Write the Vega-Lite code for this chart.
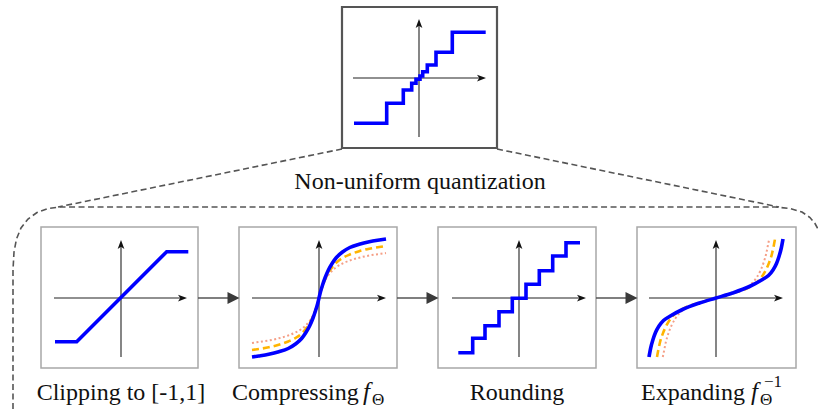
{
  "$schema": "https://vega.github.io/schema/vega-lite/v6.json",
  "width": 818,
  "height": 409,
  "autosize": {"type": "none"},
  "padding": 0,
  "background": "white",
  "config": {"view": {"stroke": null}},
  "datasets": {
    "bracket": [
      {"seg": "left", "i": 0, "x": 342, "y": 149},
      {"seg": "left", "i": 1, "x": 58, "y": 207},
      {"seg": "right", "i": 0, "x": 497, "y": 149},
      {"seg": "right", "i": 1, "x": 779, "y": 207},
      {"seg": "frame", "i": 0, "x": 13, "y": 409},
      {"seg": "frame", "i": 1, "x": 13, "y": 270},
      {"seg": "frame", "i": 2, "x": 14, "y": 252},
      {"seg": "frame", "i": 3, "x": 16.5, "y": 239},
      {"seg": "frame", "i": 4, "x": 21, "y": 228},
      {"seg": "frame", "i": 5, "x": 28, "y": 219},
      {"seg": "frame", "i": 6, "x": 37, "y": 212.5},
      {"seg": "frame", "i": 7, "x": 48, "y": 208.5},
      {"seg": "frame", "i": 8, "x": 60, "y": 207},
      {"seg": "frame", "i": 9, "x": 775, "y": 207},
      {"seg": "frame", "i": 10, "x": 790, "y": 208.5},
      {"seg": "frame", "i": 11, "x": 802, "y": 212},
      {"seg": "frame", "i": 12, "x": 810, "y": 217.5},
      {"seg": "frame", "i": 13, "x": 815, "y": 223.5},
      {"seg": "frame", "i": 14, "x": 818, "y": 229}
    ],
    "topBox": [{"x": 342, "x2": 497, "y": 7, "y2": 148}],
    "panels": [
      {"step": "clip", "x": 41, "x2": 198, "y": 227, "y2": 368},
      {"step": "compress", "x": 239, "x2": 397, "y": 227, "y2": 368},
      {"step": "round", "x": 438, "x2": 596, "y": 227, "y2": 368},
      {"step": "expand", "x": 637, "x2": 796, "y": 227, "y2": 368}
    ],
    "flow": [
      {"x": 198, "x2": 228, "y": 298},
      {"x": 397, "x2": 427, "y": 298},
      {"x": 596, "x2": 626, "y": 298}
    ],
    "flowHeads": [
      {"x": 233.5, "y": 298},
      {"x": 432.5, "y": 298},
      {"x": 631.5, "y": 298}
    ],
    "axes": [
      {"x": 353, "x2": 482, "y": 78, "y2": 78},
      {"x": 419, "x2": 419, "y": 137, "y2": 23},
      {"x": 54, "x2": 183, "y": 298, "y2": 298},
      {"x": 121, "x2": 121, "y": 357, "y2": 244},
      {"x": 252, "x2": 382, "y": 298, "y2": 298},
      {"x": 319, "x2": 319, "y": 357, "y2": 244},
      {"x": 452, "x2": 582, "y": 298, "y2": 298},
      {"x": 519, "x2": 519, "y": 357, "y2": 244},
      {"x": 649, "x2": 779, "y": 298, "y2": 298},
      {"x": 716, "x2": 716, "y": 357, "y2": 244}
    ],
    "rightHeads": [
      {"x": 481.5, "y": 78},
      {"x": 182.5, "y": 298},
      {"x": 381.5, "y": 298},
      {"x": 581.5, "y": 298},
      {"x": 778.5, "y": 298}
    ],
    "upHeads": [
      {"x": 419, "y": 23.5},
      {"x": 121, "y": 244.5},
      {"x": 319, "y": 244.5},
      {"x": 519, "y": 244.5},
      {"x": 716, "y": 244.5}
    ],
    "polylines": [
      {"line": "top", "i": 0, "x": 354, "y": 123.3},
      {"line": "top", "i": 1, "x": 386.7, "y": 123.3},
      {"line": "top", "i": 2, "x": 386.7, "y": 103.3},
      {"line": "top", "i": 3, "x": 403.3, "y": 103.3},
      {"line": "top", "i": 4, "x": 403.3, "y": 90},
      {"line": "top", "i": 5, "x": 411.7, "y": 90},
      {"line": "top", "i": 6, "x": 411.7, "y": 83.3},
      {"line": "top", "i": 7, "x": 416, "y": 83.3},
      {"line": "top", "i": 8, "x": 416, "y": 79.3},
      {"line": "top", "i": 9, "x": 420, "y": 79.3},
      {"line": "top", "i": 10, "x": 420, "y": 76},
      {"line": "top", "i": 11, "x": 422.7, "y": 76},
      {"line": "top", "i": 12, "x": 422.7, "y": 71.7},
      {"line": "top", "i": 13, "x": 427.3, "y": 71.7},
      {"line": "top", "i": 14, "x": 427.3, "y": 65},
      {"line": "top", "i": 15, "x": 436, "y": 65},
      {"line": "top", "i": 16, "x": 436, "y": 52.3},
      {"line": "top", "i": 17, "x": 452.3, "y": 52.3},
      {"line": "top", "i": 18, "x": 452.3, "y": 32.3},
      {"line": "top", "i": 19, "x": 485.7, "y": 32.3},
      {"line": "clip", "i": 0, "x": 55, "y": 341.7},
      {"line": "clip", "i": 1, "x": 76.7, "y": 341.7},
      {"line": "clip", "i": 2, "x": 166.7, "y": 251.7},
      {"line": "clip", "i": 3, "x": 188.3, "y": 251.7},
      {"line": "round", "i": 0, "x": 458.3, "y": 352.7},
      {"line": "round", "i": 1, "x": 472.7, "y": 352.7},
      {"line": "round", "i": 2, "x": 472.7, "y": 338.3},
      {"line": "round", "i": 3, "x": 485, "y": 338.3},
      {"line": "round", "i": 4, "x": 485, "y": 325.7},
      {"line": "round", "i": 5, "x": 499, "y": 325.7},
      {"line": "round", "i": 6, "x": 499, "y": 311.7},
      {"line": "round", "i": 7, "x": 512.3, "y": 311.7},
      {"line": "round", "i": 8, "x": 512.3, "y": 298.3},
      {"line": "round", "i": 9, "x": 526, "y": 298.3},
      {"line": "round", "i": 10, "x": 526, "y": 284.3},
      {"line": "round", "i": 11, "x": 539.3, "y": 284.3},
      {"line": "round", "i": 12, "x": 539.3, "y": 270.7},
      {"line": "round", "i": 13, "x": 552.7, "y": 270.7},
      {"line": "round", "i": 14, "x": 552.7, "y": 256},
      {"line": "round", "i": 15, "x": 566, "y": 256},
      {"line": "round", "i": 16, "x": 566, "y": 242.7},
      {"line": "round", "i": 17, "x": 580, "y": 242.7}
    ],
    "curves": [
      {"s": "blue", "line": "compress", "i": 0, "x": 252, "y": 357},
      {"s": "blue", "line": "compress", "i": 1, "x": 258.7, "y": 356},
      {"s": "blue", "line": "compress", "i": 2, "x": 268.7, "y": 354.3},
      {"s": "blue", "line": "compress", "i": 3, "x": 278.8, "y": 351.8},
      {"s": "blue", "line": "compress", "i": 4, "x": 288.2, "y": 348.5},
      {"s": "blue", "line": "compress", "i": 5, "x": 295.5, "y": 344},
      {"s": "blue", "line": "compress", "i": 6, "x": 301.6, "y": 338.5},
      {"s": "blue", "line": "compress", "i": 7, "x": 305.6, "y": 333},
      {"s": "blue", "line": "compress", "i": 8, "x": 309.6, "y": 326},
      {"s": "blue", "line": "compress", "i": 9, "x": 313, "y": 318},
      {"s": "blue", "line": "compress", "i": 10, "x": 315.6, "y": 310.5},
      {"s": "blue", "line": "compress", "i": 11, "x": 317.7, "y": 303.5},
      {"s": "blue", "line": "compress", "i": 12, "x": 319, "y": 298},
      {"s": "blue", "line": "compress", "i": 13, "x": 320.3, "y": 292.5},
      {"s": "blue", "line": "compress", "i": 14, "x": 322.4, "y": 285.5},
      {"s": "blue", "line": "compress", "i": 15, "x": 325, "y": 278},
      {"s": "blue", "line": "compress", "i": 16, "x": 328.4, "y": 270},
      {"s": "blue", "line": "compress", "i": 17, "x": 332.4, "y": 263},
      {"s": "blue", "line": "compress", "i": 18, "x": 336.4, "y": 257.5},
      {"s": "blue", "line": "compress", "i": 19, "x": 342.5, "y": 252},
      {"s": "blue", "line": "compress", "i": 20, "x": 349.8, "y": 247.5},
      {"s": "blue", "line": "compress", "i": 21, "x": 359.2, "y": 244.2},
      {"s": "blue", "line": "compress", "i": 22, "x": 369.3, "y": 241.7},
      {"s": "blue", "line": "compress", "i": 23, "x": 379.3, "y": 240},
      {"s": "blue", "line": "compress", "i": 24, "x": 386, "y": 239},
      {"s": "dashed", "line": "compress", "i": 0, "x": 252, "y": 350},
      {"s": "dashed", "line": "compress", "i": 1, "x": 258.7, "y": 349},
      {"s": "dashed", "line": "compress", "i": 2, "x": 268.7, "y": 347.3},
      {"s": "dashed", "line": "compress", "i": 3, "x": 278.8, "y": 344.8},
      {"s": "dashed", "line": "compress", "i": 4, "x": 288.2, "y": 341.5},
      {"s": "dashed", "line": "compress", "i": 5, "x": 295.5, "y": 338},
      {"s": "dashed", "line": "compress", "i": 6, "x": 301.6, "y": 333.5},
      {"s": "dashed", "line": "compress", "i": 7, "x": 305.6, "y": 329},
      {"s": "dashed", "line": "compress", "i": 8, "x": 309.6, "y": 323.5},
      {"s": "dashed", "line": "compress", "i": 9, "x": 313, "y": 316.5},
      {"s": "dashed", "line": "compress", "i": 10, "x": 315.6, "y": 310},
      {"s": "dashed", "line": "compress", "i": 11, "x": 317.7, "y": 303.3},
      {"s": "dashed", "line": "compress", "i": 12, "x": 319, "y": 298},
      {"s": "dashed", "line": "compress", "i": 13, "x": 320.3, "y": 292.7},
      {"s": "dashed", "line": "compress", "i": 14, "x": 322.4, "y": 286},
      {"s": "dashed", "line": "compress", "i": 15, "x": 325, "y": 279.5},
      {"s": "dashed", "line": "compress", "i": 16, "x": 328.4, "y": 272.5},
      {"s": "dashed", "line": "compress", "i": 17, "x": 332.4, "y": 267},
      {"s": "dashed", "line": "compress", "i": 18, "x": 336.4, "y": 262.5},
      {"s": "dashed", "line": "compress", "i": 19, "x": 342.5, "y": 258},
      {"s": "dashed", "line": "compress", "i": 20, "x": 349.8, "y": 254.5},
      {"s": "dashed", "line": "compress", "i": 21, "x": 359.2, "y": 251.2},
      {"s": "dashed", "line": "compress", "i": 22, "x": 369.3, "y": 248.7},
      {"s": "dashed", "line": "compress", "i": 23, "x": 379.3, "y": 247},
      {"s": "dashed", "line": "compress", "i": 24, "x": 386, "y": 246},
      {"s": "dotted", "line": "compress", "i": 0, "x": 252, "y": 343},
      {"s": "dotted", "line": "compress", "i": 1, "x": 258.7, "y": 342},
      {"s": "dotted", "line": "compress", "i": 2, "x": 268.7, "y": 340.5},
      {"s": "dotted", "line": "compress", "i": 3, "x": 278.8, "y": 338.3},
      {"s": "dotted", "line": "compress", "i": 4, "x": 288.2, "y": 335.5},
      {"s": "dotted", "line": "compress", "i": 5, "x": 295.5, "y": 332.5},
      {"s": "dotted", "line": "compress", "i": 6, "x": 301.6, "y": 329},
      {"s": "dotted", "line": "compress", "i": 7, "x": 305.6, "y": 325.5},
      {"s": "dotted", "line": "compress", "i": 8, "x": 309.6, "y": 321},
      {"s": "dotted", "line": "compress", "i": 9, "x": 313, "y": 315.5},
      {"s": "dotted", "line": "compress", "i": 10, "x": 315.6, "y": 309.5},
      {"s": "dotted", "line": "compress", "i": 11, "x": 317.7, "y": 303},
      {"s": "dotted", "line": "compress", "i": 12, "x": 319, "y": 298},
      {"s": "dotted", "line": "compress", "i": 13, "x": 320.3, "y": 293},
      {"s": "dotted", "line": "compress", "i": 14, "x": 322.4, "y": 286.5},
      {"s": "dotted", "line": "compress", "i": 15, "x": 325, "y": 280.5},
      {"s": "dotted", "line": "compress", "i": 16, "x": 328.4, "y": 275},
      {"s": "dotted", "line": "compress", "i": 17, "x": 332.4, "y": 270.5},
      {"s": "dotted", "line": "compress", "i": 18, "x": 336.4, "y": 267},
      {"s": "dotted", "line": "compress", "i": 19, "x": 342.5, "y": 263.5},
      {"s": "dotted", "line": "compress", "i": 20, "x": 349.8, "y": 260.5},
      {"s": "dotted", "line": "compress", "i": 21, "x": 359.2, "y": 257.7},
      {"s": "dotted", "line": "compress", "i": 22, "x": 369.3, "y": 255.5},
      {"s": "dotted", "line": "compress", "i": 23, "x": 379.3, "y": 254},
      {"s": "dotted", "line": "compress", "i": 24, "x": 386, "y": 253},
      {"s": "blue", "line": "expand", "i": 0, "x": 649, "y": 357},
      {"s": "blue", "line": "expand", "i": 1, "x": 650.7, "y": 348},
      {"s": "blue", "line": "expand", "i": 2, "x": 653, "y": 339.5},
      {"s": "blue", "line": "expand", "i": 3, "x": 655.5, "y": 332.5},
      {"s": "blue", "line": "expand", "i": 4, "x": 659, "y": 326},
      {"s": "blue", "line": "expand", "i": 5, "x": 663.5, "y": 320.5},
      {"s": "blue", "line": "expand", "i": 6, "x": 669.5, "y": 316.5},
      {"s": "blue", "line": "expand", "i": 7, "x": 682.5, "y": 309.5},
      {"s": "blue", "line": "expand", "i": 8, "x": 699.5, "y": 303},
      {"s": "blue", "line": "expand", "i": 9, "x": 716, "y": 298},
      {"s": "blue", "line": "expand", "i": 10, "x": 732.5, "y": 293},
      {"s": "blue", "line": "expand", "i": 11, "x": 749.5, "y": 286.5},
      {"s": "blue", "line": "expand", "i": 12, "x": 762.5, "y": 279.5},
      {"s": "blue", "line": "expand", "i": 13, "x": 768.5, "y": 275.5},
      {"s": "blue", "line": "expand", "i": 14, "x": 773, "y": 270},
      {"s": "blue", "line": "expand", "i": 15, "x": 776.5, "y": 263.5},
      {"s": "blue", "line": "expand", "i": 16, "x": 779, "y": 256.5},
      {"s": "blue", "line": "expand", "i": 17, "x": 781.3, "y": 248},
      {"s": "blue", "line": "expand", "i": 18, "x": 783, "y": 239},
      {"s": "dashed", "line": "expand", "i": 0, "x": 657, "y": 357},
      {"s": "dashed", "line": "expand", "i": 1, "x": 658.1, "y": 351.1},
      {"s": "dashed", "line": "expand", "i": 2, "x": 660, "y": 342.3},
      {"s": "dashed", "line": "expand", "i": 3, "x": 662.9, "y": 333.4},
      {"s": "dashed", "line": "expand", "i": 4, "x": 666.6, "y": 325.1},
      {"s": "dashed", "line": "expand", "i": 5, "x": 670.6, "y": 318.7},
      {"s": "dashed", "line": "expand", "i": 6, "x": 675.7, "y": 313.3},
      {"s": "dashed", "line": "expand", "i": 7, "x": 680.8, "y": 310},
      {"s": "dashed", "line": "expand", "i": 8, "x": 687, "y": 306.8},
      {"s": "dashed", "line": "expand", "i": 9, "x": 699.5, "y": 303},
      {"s": "dashed", "line": "expand", "i": 10, "x": 716, "y": 298},
      {"s": "dashed", "line": "expand", "i": 11, "x": 732.5, "y": 293},
      {"s": "dashed", "line": "expand", "i": 12, "x": 745, "y": 289.2},
      {"s": "dashed", "line": "expand", "i": 13, "x": 751.2, "y": 286},
      {"s": "dashed", "line": "expand", "i": 14, "x": 756.3, "y": 282.7},
      {"s": "dashed", "line": "expand", "i": 15, "x": 761.4, "y": 277.3},
      {"s": "dashed", "line": "expand", "i": 16, "x": 765.4, "y": 270.9},
      {"s": "dashed", "line": "expand", "i": 17, "x": 769.1, "y": 262.6},
      {"s": "dashed", "line": "expand", "i": 18, "x": 772, "y": 253.7},
      {"s": "dashed", "line": "expand", "i": 19, "x": 773.9, "y": 244.9},
      {"s": "dashed", "line": "expand", "i": 20, "x": 775, "y": 239},
      {"s": "dotted", "line": "expand", "i": 0, "x": 662.8, "y": 357},
      {"s": "dotted", "line": "expand", "i": 1, "x": 664, "y": 351.1},
      {"s": "dotted", "line": "expand", "i": 2, "x": 665.8, "y": 342.3},
      {"s": "dotted", "line": "expand", "i": 3, "x": 668.4, "y": 333.4},
      {"s": "dotted", "line": "expand", "i": 4, "x": 671.7, "y": 325.1},
      {"s": "dotted", "line": "expand", "i": 5, "x": 675.2, "y": 318.7},
      {"s": "dotted", "line": "expand", "i": 6, "x": 679.4, "y": 313.3},
      {"s": "dotted", "line": "expand", "i": 7, "x": 683.6, "y": 309.8},
      {"s": "dotted", "line": "expand", "i": 8, "x": 689.9, "y": 306.5},
      {"s": "dotted", "line": "expand", "i": 9, "x": 699.5, "y": 303},
      {"s": "dotted", "line": "expand", "i": 10, "x": 716, "y": 298},
      {"s": "dotted", "line": "expand", "i": 11, "x": 732.5, "y": 293},
      {"s": "dotted", "line": "expand", "i": 12, "x": 742.1, "y": 289.5},
      {"s": "dotted", "line": "expand", "i": 13, "x": 748.4, "y": 286.2},
      {"s": "dotted", "line": "expand", "i": 14, "x": 752.6, "y": 282.7},
      {"s": "dotted", "line": "expand", "i": 15, "x": 756.8, "y": 277.3},
      {"s": "dotted", "line": "expand", "i": 16, "x": 760.3, "y": 270.9},
      {"s": "dotted", "line": "expand", "i": 17, "x": 763.6, "y": 262.6},
      {"s": "dotted", "line": "expand", "i": 18, "x": 766.2, "y": 253.7},
      {"s": "dotted", "line": "expand", "i": 19, "x": 768, "y": 244.9},
      {"s": "dotted", "line": "expand", "i": 20, "x": 769.2, "y": 239}
    ],
    "centerText": [
      {"t": "Non-uniform quantization", "x": 420, "y": 189},
      {"t": "Clipping to [-1,1]", "x": 121, "y": 400},
      {"t": "Rounding", "x": 517, "y": 400}
    ],
    "leftText": [
      {"t": "Compressing", "x": 232, "y": 400},
      {"t": "Expanding", "x": 641, "y": 400}
    ],
    "italicF": [
      {"t": "f", "x": 363, "y": 400},
      {"t": "f", "x": 751, "y": 400}
    ],
    "scripts": [
      {"t": "Θ", "x": 372, "y": 405},
      {"t": "Θ", "x": 760, "y": 405},
      {"t": "−1", "x": 764, "y": 387}
    ]
  },
  "encoding": {
    "x": {"field": "x", "type": "quantitative", "scale": {"domain": [0, 818], "nice": false, "zero": false}, "axis": null},
    "y": {"field": "y", "type": "quantitative", "scale": {"domain": [0, 409], "reverse": true, "nice": false, "zero": false}, "axis": null}
  },
  "layer": [
    {
      "data": {"name": "bracket"},
      "mark": {"type": "line", "stroke": "#555555", "strokeWidth": 1.6, "strokeDash": [6, 3.5]},
      "encoding": {"detail": {"field": "seg"}, "order": {"field": "i", "type": "quantitative"}}
    },
    {
      "data": {"name": "topBox"},
      "mark": {"type": "rect", "fill": "white", "stroke": "#555555", "strokeWidth": 2.2},
      "encoding": {"x2": {"field": "x2"}, "y2": {"field": "y2"}}
    },
    {
      "data": {"name": "panels"},
      "mark": {"type": "rect", "fill": "white", "stroke": "#a8a8a8", "strokeWidth": 1.5},
      "encoding": {"x2": {"field": "x2"}, "y2": {"field": "y2"}}
    },
    {
      "data": {"name": "flow"},
      "mark": {"type": "rule", "stroke": "#555555", "strokeWidth": 1.5},
      "encoding": {"x2": {"field": "x2"}}
    },
    {
      "data": {"name": "flowHeads"},
      "mark": {"type": "point", "shape": "M-1,-1L1,0L-1,1Z", "size": 144, "filled": true, "color": "#3a3a3a", "opacity": 1, "strokeWidth": 0}
    },
    {
      "data": {"name": "axes"},
      "mark": {"type": "rule", "stroke": "#222222", "strokeWidth": 1.1},
      "encoding": {"x2": {"field": "x2"}, "y2": {"field": "y2"}}
    },
    {
      "data": {"name": "rightHeads"},
      "mark": {"type": "point", "shape": "M-1,-0.75L1,0L-1,0.75L-0.5,0Z", "size": 81, "filled": true, "color": "#111111", "opacity": 1, "strokeWidth": 0}
    },
    {
      "data": {"name": "upHeads"},
      "mark": {"type": "point", "shape": "M-0.75,1L0,-1L0.75,1L0,0.5Z", "size": 81, "filled": true, "color": "#111111", "opacity": 1, "strokeWidth": 0}
    },
    {
      "data": {"name": "curves"},
      "transform": [{"filter": "datum.s === 'dotted'"}],
      "mark": {"type": "line", "interpolate": "monotone", "stroke": "#f59f86", "strokeWidth": 2, "strokeDash": [2, 2.5]},
      "encoding": {"detail": {"field": "line"}, "order": {"field": "i", "type": "quantitative"}}
    },
    {
      "data": {"name": "curves"},
      "transform": [{"filter": "datum.s === 'dashed'"}],
      "mark": {"type": "line", "interpolate": "monotone", "stroke": "#ffb400", "strokeWidth": 2.6, "strokeDash": [7, 4]},
      "encoding": {"detail": {"field": "line"}, "order": {"field": "i", "type": "quantitative"}}
    },
    {
      "data": {"name": "curves"},
      "transform": [{"filter": "datum.s === 'blue'"}],
      "mark": {"type": "line", "interpolate": "monotone", "stroke": "#0000ff", "strokeWidth": 3.6},
      "encoding": {"detail": {"field": "line"}, "order": {"field": "i", "type": "quantitative"}}
    },
    {
      "data": {"name": "polylines"},
      "mark": {"type": "line", "stroke": "#0000ff", "strokeWidth": 3.6, "strokeJoin": "miter", "strokeCap": "butt"},
      "encoding": {"detail": {"field": "line"}, "order": {"field": "i", "type": "quantitative"}}
    },
    {
      "data": {"name": "centerText"},
      "mark": {"type": "text", "font": "Times New Roman", "fontSize": 24, "color": "#111111", "align": "center", "baseline": "alphabetic"},
      "encoding": {"text": {"field": "t"}}
    },
    {
      "data": {"name": "leftText"},
      "mark": {"type": "text", "font": "Times New Roman", "fontSize": 24, "color": "#111111", "align": "left", "baseline": "alphabetic"},
      "encoding": {"text": {"field": "t"}}
    },
    {
      "data": {"name": "italicF"},
      "mark": {"type": "text", "font": "Times New Roman", "fontStyle": "italic", "fontSize": 25, "color": "#111111", "align": "left", "baseline": "alphabetic"},
      "encoding": {"text": {"field": "t"}}
    },
    {
      "data": {"name": "scripts"},
      "mark": {"type": "text", "font": "Times New Roman", "fontSize": 17, "color": "#111111", "align": "left", "baseline": "alphabetic"},
      "encoding": {"text": {"field": "t"}}
    }
  ]
}
